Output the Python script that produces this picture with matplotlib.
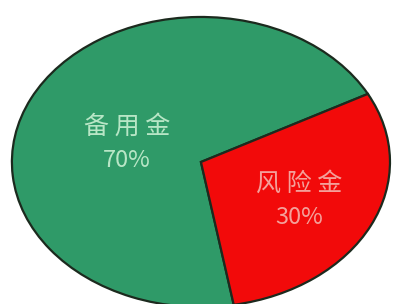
import matplotlib.pyplot as plt

plt.rcParams['font.family'] = ['Noto Sans CJK SC', 'DejaVu Sans']

labels = ['备用金', '风险金']
shares = [70, 30]
colors = ['#2f9a68', '#f20a0a']

fig = plt.figure(figsize=(3.93, 3.04), dpi=100)
ax = fig.add_axes([0, 0, 1, 1])

wedges, _ = ax.pie(shares, colors=colors, startangle=28, counterclock=True,
                   radius=1, center=(0, 0),
                   wedgeprops=dict(edgecolor='#1c2a1e', linewidth=1.6))

# stretched ellipse, cut at the bottom like the original
ax.set_aspect('auto')
ax.set_xlim(-1.063, 1.016)
ax.set_ylim(-0.979, 1.117)
ax.axis('off')

# label / percent positions (name line, value line)
name_pos = [(-0.39, 0.245), (0.52, -0.152)]
pct_pos = [(-0.39, 0.007), (0.52, -0.386)]
txt_col = ['#b8e6c6', '#f4a09a']
for i, lab in enumerate(labels):
    ax.text(*name_pos[i], ' '.join(lab), ha='center', va='center',
            color=txt_col[i], fontsize=18)
    ax.text(*pct_pos[i], f'{shares[i]}%', ha='center', va='center',
            color=txt_col[i], fontsize=17)

fig.savefig('out.png', dpi=100)
